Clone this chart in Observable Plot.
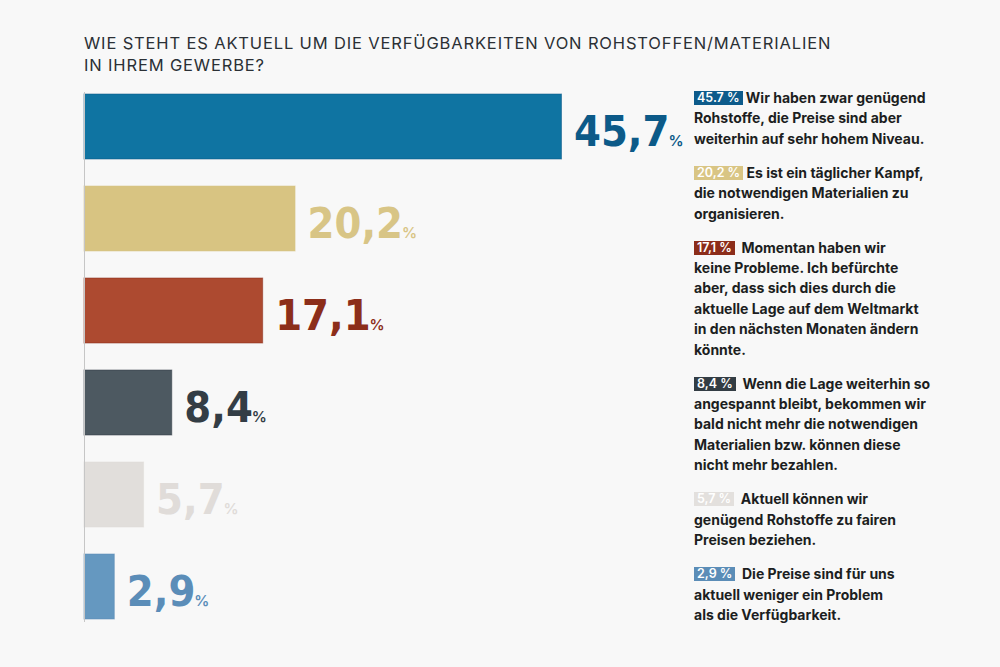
<!DOCTYPE html>
<html>
<head>
<meta charset="utf-8">
<script src="https://cdn.jsdelivr.net/npm/d3@7"></script>
<script src="https://cdn.jsdelivr.net/npm/@observablehq/plot@0.6"></script>
<style>
  html, body { margin: 0; padding: 0; }
  body { width: 1000px; height: 667px; background: #f8f8f8; position: relative; overflow: hidden; font-family: Inter, "Noto Sans", sans-serif; }
  #title { position: absolute; left: 84px; top: 33px; font-size: 16.5px; letter-spacing: 0.85px; line-height: 21.5px; font-weight: 400; color: #2b3035; white-space: nowrap; }
  #chart { position: absolute; left: 0; top: 0; }
  #legend { position: absolute; left: 694px; top: 88px; width: 300px; }
  .item { font-size: 14px; line-height: 20.4px; font-weight: 700; color: #1c1e21; margin-bottom: 13.6px; white-space: nowrap; }
  .badge { display: inline-block; color: #fff; font-size: 12.5px; line-height: 14px; padding: 0 3px; font-weight: 600; vertical-align: 1px; }
</style>
</head>
<body>
<div id="title"></div>
<div id="chart"></div>
<div id="legend"></div>
<script>
const titleLines = ["WIE STEHT ES AKTUELL UM DIE VERFÜGBARKEITEN VON ROHSTOFFEN/MATERIALIEN", "IN IHREM GEWERBE?"];
const categories = ["genuegend_preise_hoch", "taeglicher_kampf", "keine_probleme_befuerchtung", "bald_nicht_mehr", "faire_preise", "preise_kein_problem"];
const values = [45.7, 20.2, 17.1, 8.4, 5.7, 2.9];
const valueLabels = ["45,7", "20,2", "17,1", "8,4", "5,7", "2,9"];
const badgeLabels = ["45.7 %", "20,2 %", "17,1 %", "8,4 %", "5,7 %", "2,9 %"];
const barColors = ["#0f74a2", "#d8c482", "#ad4a30", "#4d5961", "#e1dedb", "#6598c0"];
const labelColors = ["#0c5a88", "#d8c586", "#8c2e1a", "#333d45", "#e0dcd9", "#5b8db8"];
const badgeColors = ["#0d5b8b", "#d9c584", "#8c2d1a", "#333d44", "#e3e0dd", "#5b8db7"];
const answerLines = [
  ["Wir haben zwar genügend", "Rohstoffe, die Preise sind aber", "weiterhin auf sehr hohem Niveau."],
  ["Es ist ein täglicher Kampf,", "die notwendigen Materialien zu", "organisieren."],
  ["Momentan haben wir", "keine Probleme. Ich befürchte", "aber, dass sich dies durch die", "aktuelle Lage auf dem Weltmarkt", "in den nächsten Monaten ändern", "könnte."],
  ["Wenn die Lage weiterhin so", "angespannt bleibt, bekommen wir", "bald nicht mehr die notwendigen", "Materialien bzw. können diese", "nicht mehr bezahlen."],
  ["Aktuell können wir", "genügend Rohstoffe zu fairen", "Preisen beziehen."],
  ["Die Preise sind für uns", "aktuell weniger ein Problem", "als die Verfügbarkeit."]
];

document.getElementById("title").innerHTML = titleLines.join("<br>");

const data = categories.map((c, i) => ({cat: c, value: values[i], i}));

const chart = Plot.plot({
  width: 690,
  height: 667,
  marginLeft: 84,
  marginRight: 0,
  marginTop: 92,
  marginBottom: 45,
  x: {domain: [0, 58], axis: null},
  y: {domain: categories, axis: null, paddingInner: 0.29, paddingOuter: 0},
  color: {type: "identity"},
  style: {background: "transparent", overflow: "visible"},
  marks: [
    Plot.barX(data, {x: "value", y: "cat", fill: d => barColors[d.i], stroke: d => labelColors[d.i], strokeWidth: 1, strokeOpacity: 0.55}),
    Plot.ruleX([0], {stroke: "#c6c6c6", strokeWidth: 1}),
    Plot.text(data, {
      x: "value", y: "cat", text: d => valueLabels[d.i],
      fill: d => labelColors[d.i],
      textAnchor: "start", dx: 12, dy: 5,
      fontSize: 43, fontWeight: "bold",
      fontFamily: "DejaVu Sans Condensed, DejaVu Sans, sans-serif"
    })
  ]
});
document.getElementById("chart").appendChild(chart);

d3.select(chart).selectAll('g[aria-label="text"] text').each(function () {
  d3.select(this).append("tspan")
    .attr("font-size", 15)
    .attr("font-weight", 600)
    .attr("font-family", "Inter, sans-serif")
    .attr("dx", -1)
    .text("%");
});

const legend = d3.select("#legend");
answerLines.forEach((lines, i) => {
  const item = legend.append("div").attr("class", "item");
  item.append("span").attr("class", "badge").style("background", badgeColors[i]).text(badgeLabels[i]);
  item.append("span").html((i === 0 || i === 1 ? " " : "&nbsp;&nbsp;") + lines[0]);
  lines.slice(1).forEach(l => { item.append("br"); item.append("span").text(l); });
});
</script>
</body>
</html>
